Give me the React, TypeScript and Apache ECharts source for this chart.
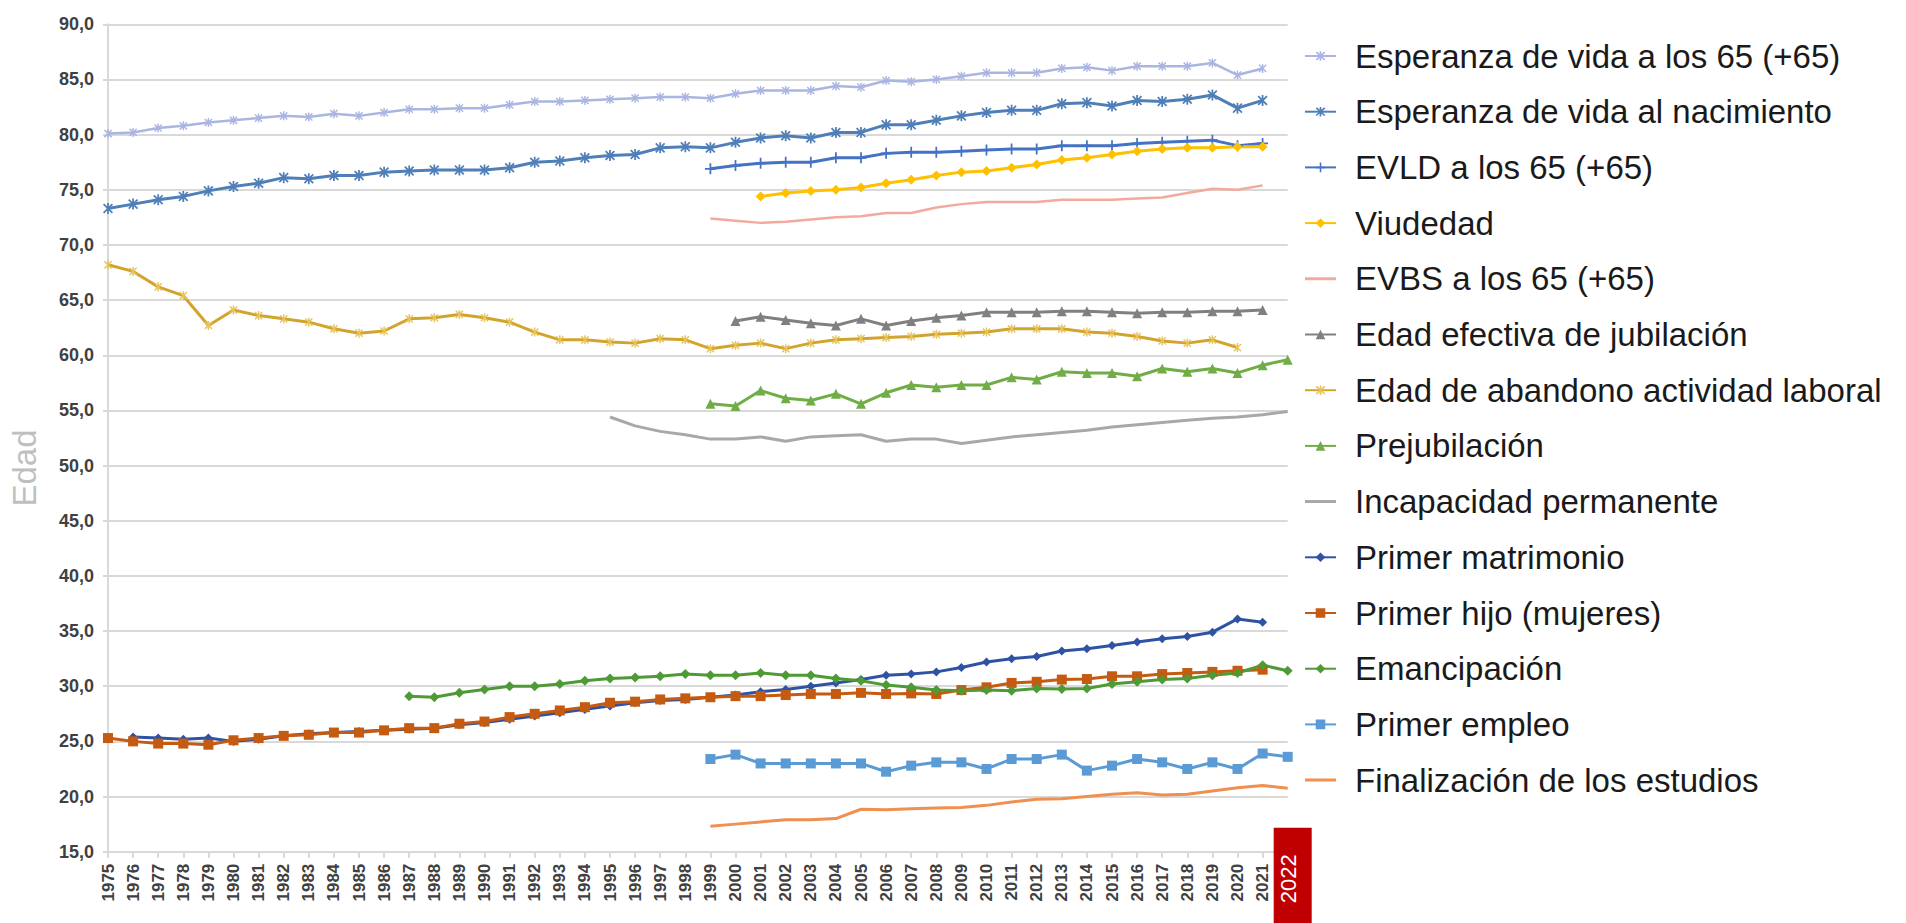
import React, { useEffect, useRef } from "react";
import * as echarts from "echarts";

const years = [
  "1975", "1976", "1977", "1978", "1979", "1980", "1981", "1982", "1983", "1984",
  "1985", "1986", "1987", "1988", "1989", "1990", "1991", "1992", "1993", "1994",
  "1995", "1996", "1997", "1998", "1999", "2000", "2001", "2002", "2003", "2004",
  "2005", "2006", "2007", "2008", "2009", "2010", "2011", "2012", "2013", "2014",
  "2015", "2016", "2017", "2018", "2019", "2020", "2021", "2022",
];

// Esperanza de vida a los 65 (+65), from 1975
const esp65 = [
  80.1, 80.2, 80.6, 80.8, 81.1, 81.3, 81.5, 81.7, 81.6, 81.9, 81.7, 82.0, 82.3, 82.3, 82.4,
  82.4, 82.7, 83.0, 83.0, 83.1, 83.2, 83.3, 83.4, 83.4, 83.3, 83.7, 84.0, 84.0, 84.0, 84.4,
  84.3, 84.9, 84.8, 85.0, 85.3, 85.6, 85.6, 85.6, 86.0, 86.1, 85.8, 86.2, 86.2, 86.2, 86.5,
  85.4, 86.0,
];
// Esperanza de vida al nacimiento, from 1975
const espNac = [
  73.3, 73.7, 74.1, 74.4, 74.9, 75.3, 75.6, 76.1, 76.0, 76.3, 76.3, 76.6, 76.7, 76.8, 76.8,
  76.8, 77.0, 77.5, 77.6, 77.9, 78.1, 78.2, 78.8, 78.9, 78.8, 79.3, 79.7, 79.9, 79.7, 80.2,
  80.2, 80.9, 80.9, 81.3, 81.7, 82.0, 82.2, 82.2, 82.8, 82.9, 82.6, 83.1, 83.0, 83.2, 83.6,
  82.4, 83.1,
];
// EVLD a los 65 (+65), from 1999
const evld = [
  76.9, 77.2, 77.4, 77.5, 77.5, 77.9, 77.9, 78.3, 78.4, 78.4, 78.5, 78.6, 78.7, 78.7, 79.0,
  79.0, 79.0, 79.2, 79.3, 79.4, 79.5, 79.0, 79.2,
];
// Viudedad, from 2001
const viudedad = [
  74.4, 74.7, 74.9, 75.0, 75.2, 75.6, 75.9, 76.3, 76.6, 76.7, 77.0, 77.3, 77.7, 77.9, 78.2,
  78.5, 78.7, 78.8, 78.8, 78.9, 78.9,
];
// EVBS a los 65 (+65), from 1999
const evbs = [
  72.4, 72.2, 72.0, 72.1, 72.3, 72.5, 72.6, 72.9, 72.9, 73.4, 73.7, 73.9, 73.9, 73.9, 74.1,
  74.1, 74.1, 74.2, 74.3, 74.7, 75.1, 75.0, 75.4,
];
// Edad efectiva de jubilación, from 2000
const jubilacion = [
  63.1, 63.5, 63.2, 62.9, 62.7, 63.3, 62.7, 63.1, 63.4, 63.6, 63.9, 63.9, 63.9, 64.0, 64.0,
  63.9, 63.8, 63.9, 63.9, 64.0, 64.0, 64.1,
];
// Edad de abandono actividad laboral, from 1975
const abandono = [
  68.2, 67.6, 66.2, 65.4, 62.7, 64.1, 63.6, 63.3, 63.0, 62.4, 62.0, 62.2, 63.3, 63.4, 63.7,
  63.4, 63.0, 62.1, 61.4, 61.4, 61.2, 61.1, 61.5, 61.4, 60.6, 60.9, 61.1, 60.6, 61.1, 61.4,
  61.5, 61.6, 61.7, 61.9, 62.0, 62.1, 62.4, 62.4, 62.4, 62.1, 62.0, 61.7, 61.3, 61.1, 61.4,
  60.7,
];
// Prejubilación, from 1999
const prejubilacion = [
  55.6, 55.4, 56.8, 56.1, 55.9, 56.5, 55.6, 56.6, 57.3, 57.1, 57.3, 57.3, 58.0, 57.8, 58.5,
  58.4, 58.4, 58.1, 58.8, 58.5, 58.8, 58.4, 59.1, 59.6,
];
// Incapacidad permanente, from 1995
const incapacidad = [
  54.4, 53.6, 53.1, 52.8, 52.4, 52.4, 52.6, 52.2, 52.6, 52.7, 52.8, 52.2, 52.4, 52.4, 52.0,
  52.3, 52.6, 52.8, 53.0, 53.2, 53.5, 53.7, 53.9, 54.1, 54.3, 54.4, 54.6, 54.9,
];
// Primer matrimonio, from 1976
const matrimonio = [
  25.4, 25.3, 25.2, 25.3, 25.0, 25.2, 25.5, 25.7, 25.8, 25.9, 26.0, 26.1, 26.2, 26.5, 26.7,
  27.0, 27.3, 27.6, 27.9, 28.2, 28.5, 28.7, 28.8, 29.0, 29.2, 29.5, 29.7, 30.0, 30.3, 30.6,
  31.0, 31.1, 31.3, 31.7, 32.2, 32.5, 32.7, 33.2, 33.4, 33.7, 34.0, 34.3, 34.5, 34.9, 36.1,
  35.8,
];
// Primer hijo (mujeres), from 1975
const hijo = [
  25.3, 25.0, 24.8, 24.8, 24.7, 25.1, 25.3, 25.5, 25.6, 25.8, 25.8, 26.0, 26.2, 26.2, 26.6,
  26.8, 27.2, 27.5, 27.8, 28.1, 28.5, 28.6, 28.8, 28.9, 29.0, 29.1, 29.1, 29.2, 29.3, 29.3,
  29.4, 29.3, 29.35, 29.3, 29.65, 29.9, 30.3, 30.4, 30.6, 30.65, 30.9, 30.9, 31.1, 31.2, 31.3,
  31.4, 31.5,
];
// Emancipación, from 1987
const emancipacion = [
  29.1, 29.0, 29.4, 29.7, 30.0, 30.0, 30.2, 30.5, 30.7, 30.8, 30.9, 31.1, 31.0, 31.0, 31.2,
  31.0, 31.0, 30.7, 30.5, 30.1, 29.9, 29.65, 29.6, 29.65, 29.6, 29.8, 29.75, 29.8, 30.2, 30.4,
  30.6, 30.7, 31.0, 31.2, 31.9, 31.4,
];
// Primer empleo, from 1999
const empleo = [
  23.4, 23.8, 23.0, 23.0, 23.0, 23.0, 23.0, 22.25, 22.8, 23.1, 23.1, 22.5, 23.4, 23.4, 23.8,
  22.35, 22.8, 23.4, 23.1, 22.5, 23.1, 22.5, 23.9, 23.6,
];
// Finalización de los estudios, from 1999
const estudios = [
  17.3, 17.5, 17.7, 17.9, 17.9, 18.0, 18.85, 18.8, 18.9, 18.95, 19.0, 19.2, 19.5, 19.75, 19.8,
  20.0, 20.2, 20.35, 20.15, 20.2, 20.5, 20.8, 21.0, 20.75,
];

const FONT = "'Liberation Sans', Arial, sans-serif";

const STAR =
  "path://M-0.8,-5L0.8,-5L0.8,5L-0.8,5Z M-4.566,-3.434L-3.434,-4.566L4.566,3.434L3.434,4.566Z M-3.434,4.566L-4.566,3.434L3.434,-4.566L4.566,-3.434Z";
const PLUS = "path://M-0.8,-5L0.8,-5L0.8,5L-0.8,5Z M-5,-0.8L5,-0.8L5,0.8L-5,0.8Z";
// legend icon for plain lines: a 3px band in a 12px-high box (hair-thin edges keep the box height)
const LINE_ICON =
  "path://M0,0L31,0L31,0.01L0,0.01Z M0,4.5L31,4.5L31,7.5L0,7.5Z M0,11.99L31,11.99L31,12L0,12Z";

function pad(start: string, vals: number[]) {
  const idx = years.indexOf(start);
  return years.map((_, i) => (i >= idx && i - idx < vals.length ? vals[i - idx] : null));
}

type Def = {
  name: string;
  start: string;
  vals: number[];
  color: string;
  markerColor?: string;
  symbol: string;
  size: number;
  width: number;
};

const defs: Def[] = [
  { name: "Esperanza de vida a los 65 (+65)", start: "1975", vals: esp65, color: "#aab5e2", symbol: STAR, size: 9, width: 2.5 },
  { name: "Esperanza de vida al nacimiento", start: "1975", vals: espNac, color: "#4f7fb8", symbol: STAR, size: 11, width: 3 },
  { name: "EVLD a los 65 (+65)", start: "1999", vals: evld, color: "#4472c4", symbol: PLUS, size: 11, width: 3 },
  { name: "Viudedad", start: "2001", vals: viudedad, color: "#ffc000", symbol: "diamond", size: 10, width: 3 },
  { name: "EVBS a los 65 (+65)", start: "1999", vals: evbs, color: "#f2aa9c", symbol: "none", size: 0, width: 2.5 },
  { name: "Edad efectiva de jubilación", start: "2000", vals: jubilacion, color: "#808080", symbol: "triangle", size: 10, width: 3 },
  { name: "Edad de abandono actividad laboral", start: "1975", vals: abandono, color: "#d3a42c", markerColor: "#e6c45e", symbol: STAR, size: 9, width: 3 },
  { name: "Prejubilación", start: "1999", vals: prejubilacion, color: "#70ad47", symbol: "triangle", size: 10, width: 3 },
  { name: "Incapacidad permanente", start: "1995", vals: incapacidad, color: "#a8a8a8", symbol: "none", size: 0, width: 3 },
  { name: "Primer matrimonio", start: "1976", vals: matrimonio, color: "#2f52a3", symbol: "diamond", size: 9, width: 3 },
  { name: "Primer hijo (mujeres)", start: "1975", vals: hijo, color: "#c55a11", symbol: "rect", size: 10, width: 3 },
  { name: "Emancipación", start: "1987", vals: emancipacion, color: "#4e9a36", symbol: "diamond", size: 10, width: 3 },
  { name: "Primer empleo", start: "1999", vals: empleo, color: "#5b9bd5", symbol: "rect", size: 10, width: 3 },
  { name: "Finalización de los estudios", start: "1999", vals: estudios, color: "#ef8f50", symbol: "none", size: 0, width: 3 },
];

export default function App() {
  const ref = useRef<HTMLDivElement>(null);

  useEffect(() => {
    if (!ref.current) return;
    const chart = echarts.init(ref.current, undefined, { renderer: "svg" });

    const series = defs.map((d) => ({
      name: d.name,
      type: "line",
      data: pad(d.start, d.vals),
      symbol: d.symbol,
      symbolSize: d.size,
      showSymbol: d.symbol !== "none",
      symbolKeepAspect: true,
      connectNulls: false,
      lineStyle: { color: d.color, width: d.width },
      itemStyle: { color: d.markerColor || d.color },
      emphasis: { disabled: true },
    }));

    chart.setOption({
      animation: false,
      backgroundColor: "#ffffff",
      grid: { left: 107, top: 24.3, width: 1180.7, height: 827.4, containLabel: false },
      legend: {
        orient: "vertical",
        left: 1299,
        top: 33,
        itemWidth: 31,
        itemHeight: 12,
        itemGap: 19.7,
        selectedMode: false,
        data: defs.map((d) =>
          d.symbol === "none"
            ? { name: d.name, icon: LINE_ICON, itemStyle: { color: d.color } }
            : { name: d.name }
        ),
        textStyle: {
          fontSize: 33,
          lineHeight: 36,
          color: "#1a1a1a",
          fontFamily: FONT,
          padding: [0, 0, 0, 14],
        },
      },
      xAxis: {
        type: "category",
        data: years,
        boundaryGap: false,
        axisLine: { show: true, lineStyle: { color: "#d9d9d9", width: 2 } },
        axisTick: { show: true, interval: 0, length: 6, lineStyle: { color: "#d9d9d9", width: 2 } },
        axisLabel: {
          interval: 0,
          rotate: 90,
          fontSize: 17,
          fontWeight: "bold",
          color: "#404040",
          margin: 12,
          fontFamily: FONT,
          formatter: (v: string) => (v === "2022" ? "" : v),
        },
        splitLine: { show: false },
      },
      yAxis: {
        type: "value",
        min: 15,
        max: 90,
        interval: 5,
        name: "Edad",
        nameLocation: "middle",
        nameGap: 67,
        nameTextStyle: { fontSize: 33, color: "#bfbfbf", fontFamily: FONT, padding: [0, 60, 0, 0] },
        axisLine: { show: true, lineStyle: { color: "#d9d9d9", width: 2 } },
        axisTick: { show: true, length: 5, lineStyle: { color: "#d9d9d9", width: 2 } },
        axisLabel: {
          fontSize: 18,
          fontWeight: "bold",
          color: "#404040",
          margin: 14,
          fontFamily: FONT,
          formatter: (v: number) => v.toFixed(1).replace(".", ","),
        },
        splitLine: { show: true, lineStyle: { color: "#d9d9d9", width: 2 } },
      },
      series,
    });

    const xc = chart.convertToPixel({ xAxisIndex: 0 }, "2022") as number;
    const y0 = chart.convertToPixel({ yAxisIndex: 0 }, 15) as number;
    chart.setOption({
      graphic: [
        {
          type: "rect",
          z: 100,
          shape: { x: xc - 14, y: y0 - 24, width: 38, height: 140 },
          style: { fill: "#c00000" },
        },
        {
          type: "text",
          z: 101,
          x: xc + 1,
          y: y0 + 27,
          rotation: Math.PI / 2,
          style: {
            text: "2022",
            fill: "#ffffff",
            fontSize: 22,
            fontFamily: FONT,
            align: "center",
            verticalAlign: "middle",
            textAlign: "center",
            textVerticalAlign: "middle",
          },
        },
      ],
    });

    return () => chart.dispose();
  }, []);

  return (
    <div
      ref={ref}
      style={{ position: "fixed", left: 0, top: 0, width: 1906, height: 923, background: "#fff" }}
    />
  );
}
